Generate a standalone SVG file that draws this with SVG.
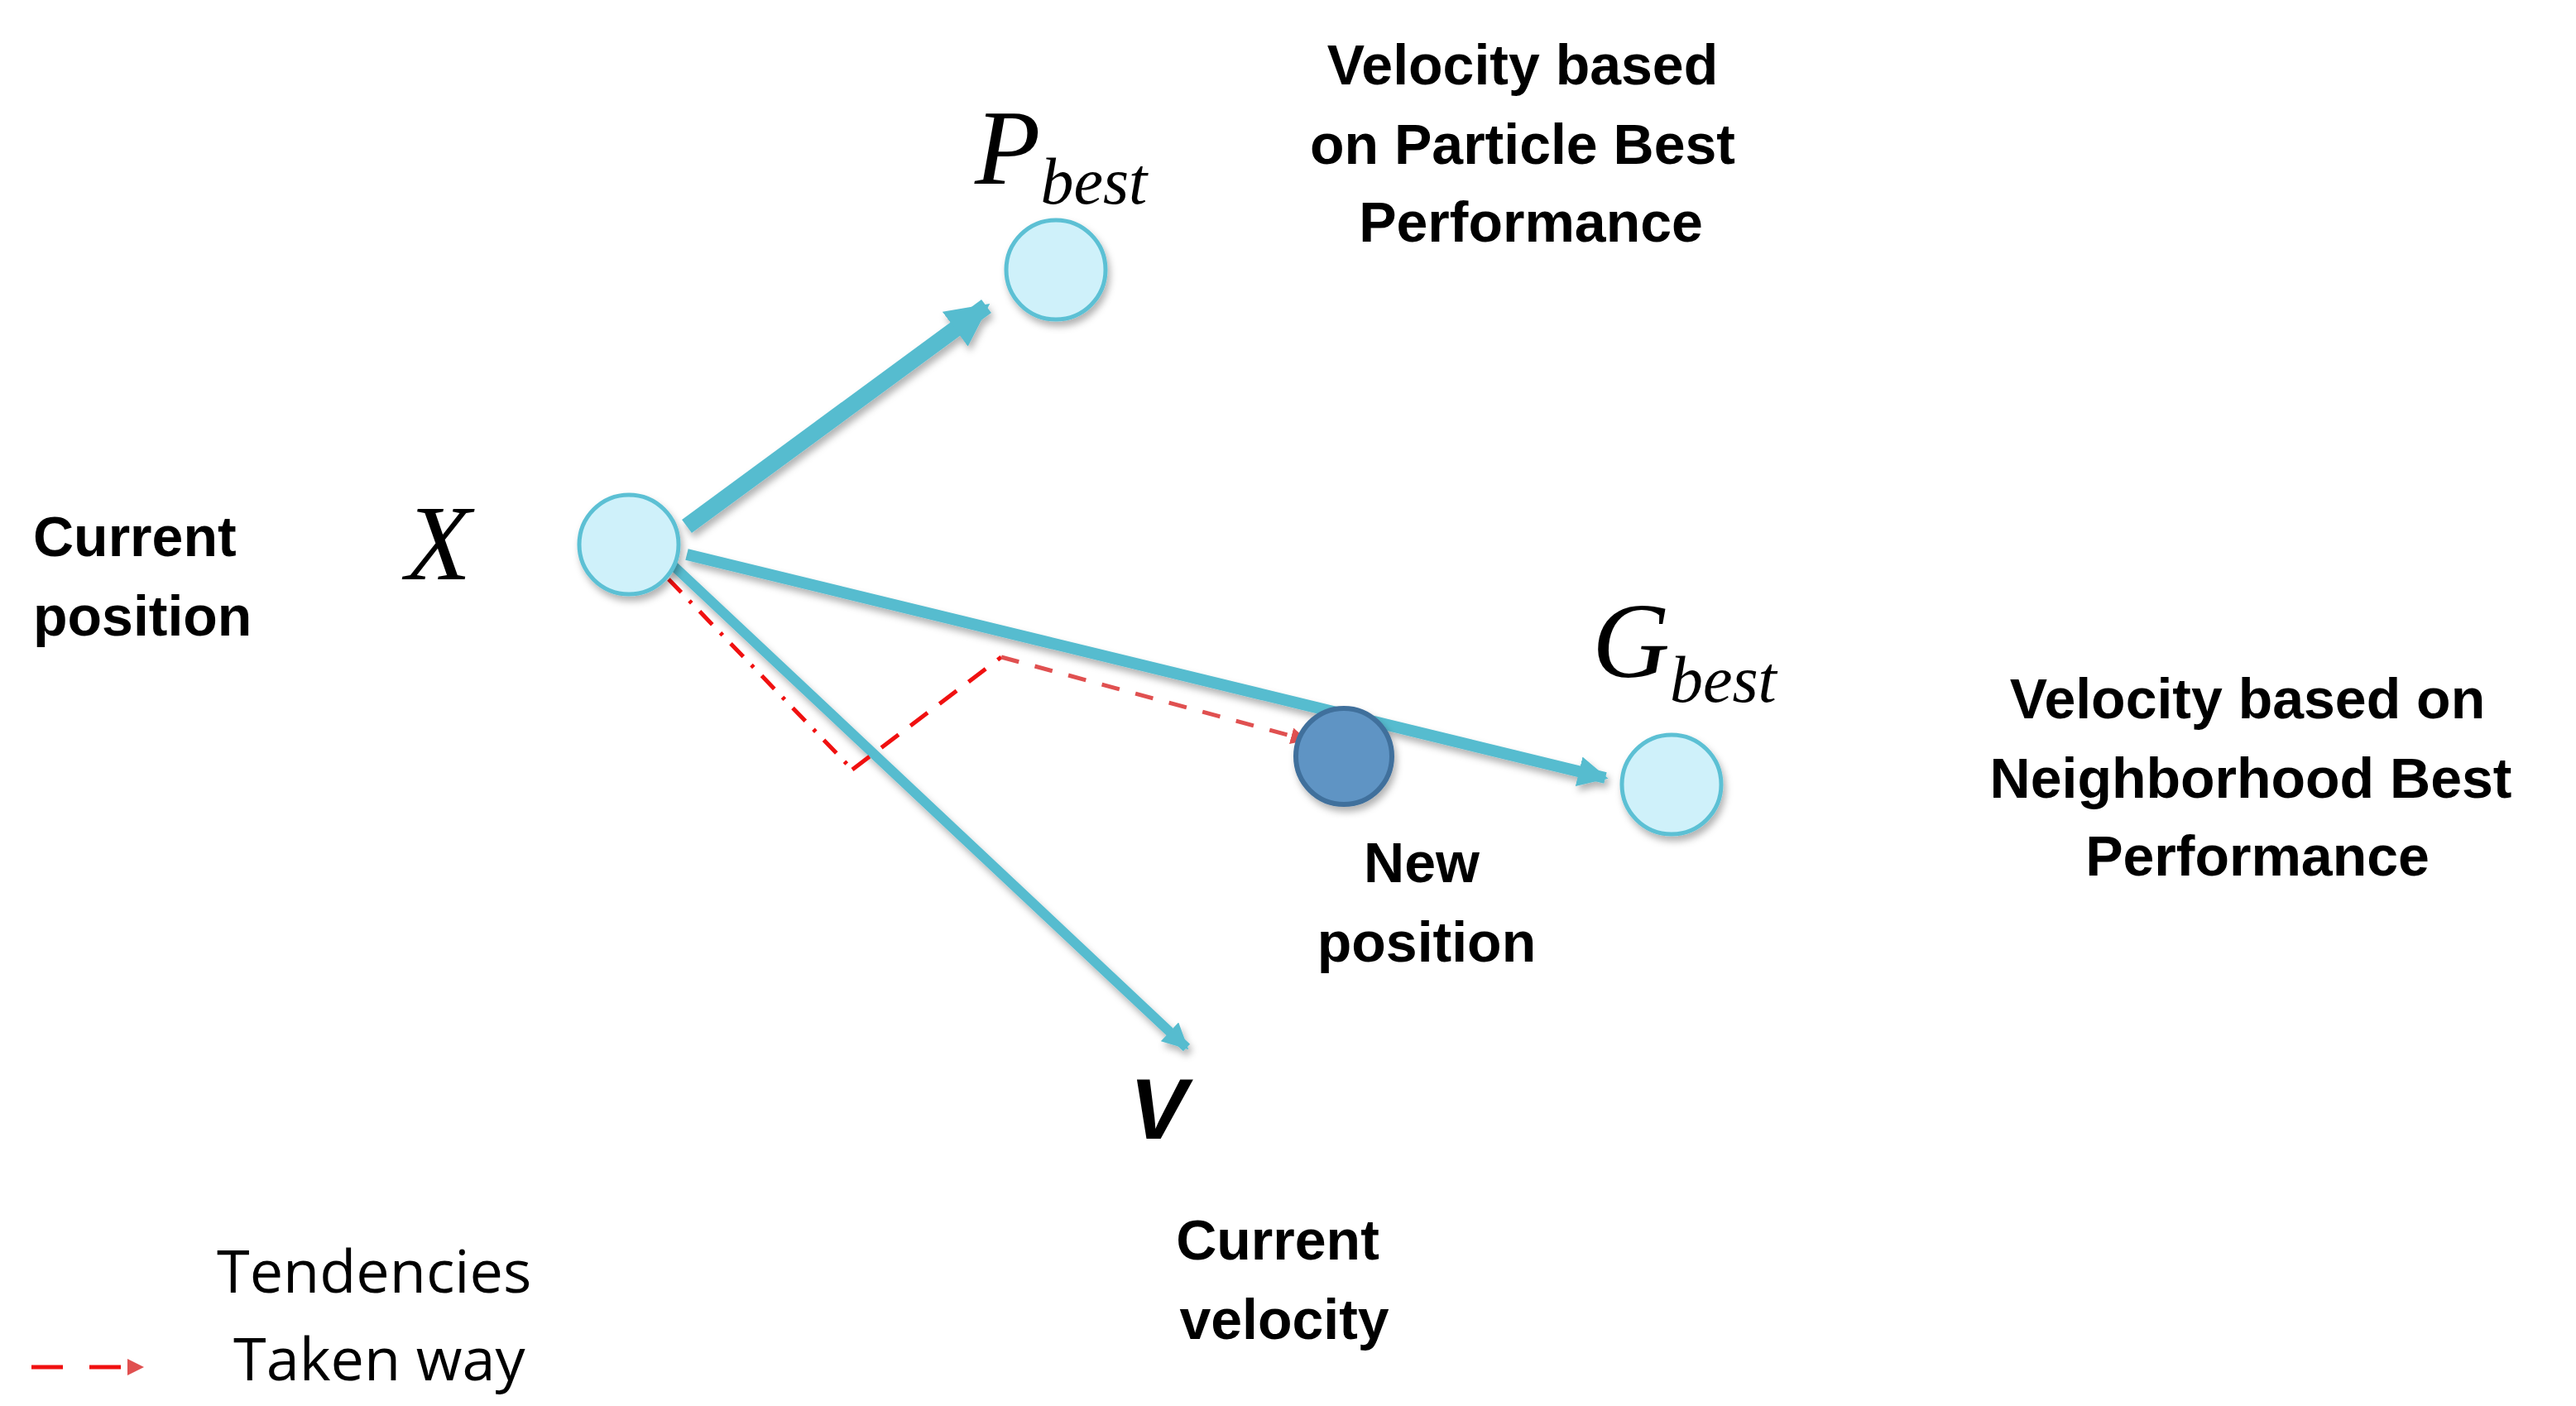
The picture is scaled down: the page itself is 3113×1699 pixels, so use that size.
<svg xmlns="http://www.w3.org/2000/svg" width="3113" height="1699" viewBox="0 0 3113 1699">
<style>
.lbl{font-family:"Liberation Sans",Arial,sans-serif;font-weight:bold;font-size:68px;fill:#000;text-anchor:middle}
.math{font-family:"Liberation Serif","Times New Roman",serif;font-style:italic;fill:#000}
.leg{font-family:"Open Sans","Liberation Sans",sans-serif;font-size:72px;fill:#000}
.tend{stroke:#56BCCF;fill:none;filter:url(#sh)}
.lc{fill:#CFF1FA;stroke:#5CC0D4;stroke-width:5;filter:url(#sh)}
.red{stroke:#F01010;stroke-width:5;fill:none}
</style>
<defs>
<filter id="sh" x="-20%" y="-20%" width="140%" height="140%"><feDropShadow dx="3" dy="6" stdDeviation="4" flood-color="#000" flood-opacity="0.3"/></filter>
<marker id="ah" viewBox="0 0 10 10" refX="9" refY="5" markerWidth="2.6" markerHeight="2.6" orient="auto" markerUnits="strokeWidth"><path d="M0,0L10,5L0,10z" fill="#56BCCF"/></marker>
<marker id="rh" viewBox="0 0 10 10" refX="9" refY="5" markerWidth="4" markerHeight="4" orient="auto" markerUnits="strokeWidth"><path d="M0,0L10,5L0,10z" fill="#E05050"/></marker>
</defs>
<rect width="3113" height="1699" fill="#fff"/>
<g id="connectors">
<line class="tend" x1="830" y1="636" x2="1192" y2="370" stroke-width="20" marker-end="url(#ah)"/>
<line class="tend" x1="830" y1="670" x2="1940" y2="940" stroke-width="14" marker-end="url(#ah)"/>
<line class="tend" x1="812" y1="682" x2="1434" y2="1266" stroke-width="12" marker-end="url(#ah)"/>
<polyline class="red" points="808,700 1030,930" stroke-dasharray="22,14,4,14"/>
<line class="red" x1="1030" y1="930" x2="1210" y2="794" stroke-dasharray="26,18"/>
<line x1="1210" y1="794" x2="1578" y2="894" stroke="#E05050" stroke-width="5" stroke-dasharray="22,20" marker-end="url(#rh)"/>
</g>
<g id="pbest"><circle class="lc" cx="1276" cy="326" r="60"/>
<text class="math" x="1178" y="222" font-size="130">P<tspan font-size="80" dy="24">best</tspan></text></g>
<g id="x"><circle class="lc" cx="760" cy="658" r="60"/>
<text class="math" x="490" y="700" font-size="130">X</text></g>
<g id="gbest"><circle class="lc" cx="2020" cy="948" r="60"/>
<text class="math" x="1924" y="818" font-size="130">G<tspan font-size="80" dy="30">best</tspan></text></g>
<g id="newpos"><circle cx="1624" cy="914" r="58" fill="#5F94C4" stroke="#41709C" stroke-width="6" filter="url(#sh)"/>
<text class="lbl"><tspan x="1718" y="1066">New</tspan><tspan x="1724" y="1162">position</tspan></text></g>
<g id="v"><text x="1400" y="1376" font-family="Liberation Sans,Arial,sans-serif" font-weight="bold" font-style="italic" font-size="104" text-anchor="middle">V</text>
<text class="lbl"><tspan x="1544" y="1522">Current</tspan><tspan x="1552" y="1618">velocity</tspan></text></g>
<g id="labels">
<text class="lbl"><tspan x="1840" y="102">Velocity based</tspan><tspan x="1840" y="198">on Particle Best</tspan><tspan x="1850" y="292">Performance</tspan></text>
<text class="lbl" text-anchor="start" style="text-anchor:start"><tspan x="40" y="672">Current</tspan><tspan x="40" y="768">position</tspan></text>
<text class="lbl"><tspan x="2716" y="868">Velocity based on</tspan><tspan x="2720" y="964">Neighborhood Best</tspan><tspan x="2728" y="1058">Performance</tspan></text>
</g>
<g id="legend">
<line class="tend" x1="40" y1="1536" x2="176" y2="1536" stroke-width="20" marker-end="url(#ah)"/>
<text class="leg" x="262" y="1562">Tendencies</text>
<line x1="38" y1="1652" x2="172" y2="1652" stroke="#F01010" stroke-width="5" stroke-dasharray="38,32" marker-end="url(#rh)"/>
<text class="leg" x="282" y="1668">Taken way</text>
</g>
</svg>
